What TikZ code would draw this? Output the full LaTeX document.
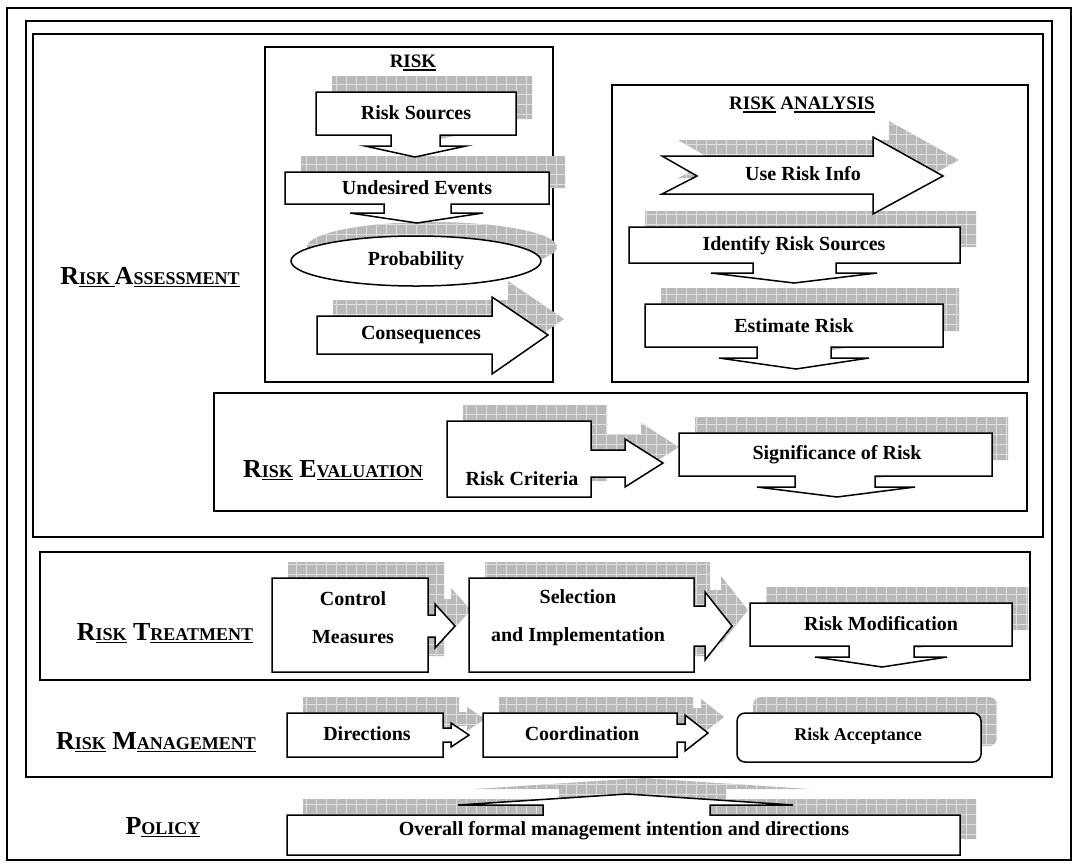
\documentclass[tikz,border=0pt]{standalone}
\usepackage{fontspec}
\setmainfont{Liberation Serif}
\newcommand{\ulbox}[1]{\setbox0\hbox{#1}\rlap{\rule[-3pt]{\wd0}{1.5pt}}\box0\relax}
\newcommand{\hcap}[1]{{\fontsize{26}{30}\selectfont #1}}
\newcommand{\hsc}[1]{\ulbox{\fontsize{18}{20}\selectfont #1}}

\begin{document}
\begin{tikzpicture}[x=1pt, y=-1pt, line join=miter,
  frameline/.style={line width=1.8pt},
  calbox/.style={draw, fill=white, line width=1.5pt},
  shadowfill/.style={fill=gray!55, path picture={\draw[gray!25, line width=0.7pt, step=10pt] (path picture bounding box.south west) grid (path picture bounding box.north east);}},
  lbl/.style={font=\fontsize{20}{24}\selectfont\bfseries, align=center},
  heading/.style={font=\fontsize{26}{30}\selectfont\bfseries}]
\useasboundingbox (0,0) rectangle (1078,863);

% Frames
\draw[frameline] (7,8) rectangle (1071,860);
\draw[frameline] (26,21) rectangle (1052,777);
\draw[frameline] (33,34) rectangle (1043,537);
\draw[frameline] (265,47) rectangle (553,382);
\draw[frameline] (612,85) rectangle (1028,382);
\draw[frameline] (214,393) rectangle (1027,511);
\draw[frameline] (40,552) rectangle (1030,680);

% Hatched shadows, shifted up and right
\begin{scope}[shift={(16,-16)}]
\path[shadowfill] (316,92) -- (516,92) -- (516,135) -- (440,135) -- (440,146) -- (466,146) -- (415,157) -- (365,146) -- (391,146) -- (391,135) -- (316,135) -- cycle;
\path[shadowfill] (285,172) -- (549,172) -- (549,204) -- (451,204) -- (451,213) -- (483,213) -- (417,223) -- (350,213) -- (384,213) -- (384,204) -- (285,204) -- cycle;
\path[shadowfill] (416,263) ellipse [x radius=125, y radius=25];
\path[shadowfill] (317,316) -- (492,316) -- (492,297) -- (548,335) -- (492,374) -- (492,354) -- (317,354) -- cycle;
\path[shadowfill] (662,156) -- (873,156) -- (873,137) -- (943,176) -- (873,214) -- (873,194) -- (662,194) -- (697,176) -- cycle;
\path[shadowfill] (629,227) -- (960,227) -- (960,263) -- (836,263) -- (836,273) -- (877,273) -- (794,283) -- (711,273) -- (753,273) -- (753,263) -- (629,263) -- cycle;
\path[shadowfill] (645,304) -- (943,304) -- (943,347) -- (831,347) -- (831,358) -- (869,358) -- (796,369) -- (719,358) -- (757,358) -- (757,347) -- (645,347) -- cycle;
\path[shadowfill] (447,421) -- (591,421) -- (591,450) -- (625,450) -- (625,439) -- (663,463) -- (625,487) -- (625,477) -- (591,477) -- (591,497) -- (447,497) -- cycle;
\path[shadowfill] (679,433) -- (992,433) -- (992,476) -- (875,476) -- (875,487) -- (915,487) -- (837,497) -- (757,487) -- (795,487) -- (795,476) -- (679,476) -- cycle;
\path[shadowfill] (272,578) -- (428,578) -- (428,615) -- (435,615) -- (435,604) -- (455,626) -- (435,648) -- (435,637) -- (428,637) -- (428,672) -- (272,672) -- cycle;
\path[shadowfill] (469,578) -- (694,578) -- (694,606) -- (705,606) -- (705,592) -- (732,626) -- (705,660) -- (705,646) -- (694,646) -- (694,672) -- (469,672) -- cycle;
\path[shadowfill] (750,603) -- (1012,603) -- (1012,646) -- (914,646) -- (914,657) -- (947,657) -- (882,667) -- (815,657) -- (849,657) -- (849,646) -- (750,646) -- cycle;
\path[shadowfill] (287,713) -- (443,713) -- (443,728) -- (451,728) -- (451,723) -- (469,735) -- (451,747) -- (451,742) -- (443,742) -- (443,757) -- (287,757) -- cycle;
\path[shadowfill] (483,713) -- (677,713) -- (677,724) -- (685,724) -- (685,715) -- (708,733) -- (685,751) -- (685,742) -- (677,742) -- (677,757) -- (483,757) -- cycle;
\path[shadowfill, rounded corners=8pt] (737,713) rectangle (981,762);
\path[shadowfill] (287,815) -- (543,815) -- (543,805) -- (458,805) -- (627,794) -- (793,805) -- (710,805) -- (710,815) -- (960,815) -- (960,855) -- (287,855) -- cycle;
\end{scope}

% Risk
\draw[calbox] (316,92) -- (516,92) -- (516,135) -- (440,135) -- (440,146) -- (466,146) -- (415,157) -- (365,146) -- (391,146) -- (391,135) -- (316,135) -- cycle;
\draw[calbox] (285,172) -- (549,172) -- (549,204) -- (451,204) -- (451,213) -- (483,213) -- (417,223) -- (350,213) -- (384,213) -- (384,204) -- (285,204) -- cycle;
\draw[calbox] (416,261) ellipse [x radius=125, y radius=25];
\draw[calbox] (317,316) -- (492,316) -- (492,297) -- (548,335) -- (492,374) -- (492,354) -- (317,354) -- cycle;

% Risk analysis
\draw[calbox] (662,156) -- (873,156) -- (873,137) -- (943,176) -- (873,214) -- (873,194) -- (662,194) -- (697,176) -- cycle;
\draw[calbox] (629,227) -- (960,227) -- (960,263) -- (836,263) -- (836,273) -- (877,273) -- (794,283) -- (711,273) -- (753,273) -- (753,263) -- (629,263) -- cycle;
\draw[calbox] (645,304) -- (943,304) -- (943,347) -- (831,347) -- (831,358) -- (869,358) -- (796,369) -- (719,358) -- (757,358) -- (757,347) -- (645,347) -- cycle;

% Risk evaluation
\draw[calbox] (447,421) -- (591,421) -- (591,450) -- (625,450) -- (625,439) -- (663,463) -- (625,487) -- (625,477) -- (591,477) -- (591,497) -- (447,497) -- cycle;
\draw[calbox] (679,433) -- (992,433) -- (992,476) -- (875,476) -- (875,487) -- (915,487) -- (837,497) -- (757,487) -- (795,487) -- (795,476) -- (679,476) -- cycle;

% Risk treatment
\draw[calbox] (272,578) -- (428,578) -- (428,615) -- (435,615) -- (435,604) -- (455,626) -- (435,648) -- (435,637) -- (428,637) -- (428,672) -- (272,672) -- cycle;
\draw[calbox] (469,578) -- (694,578) -- (694,606) -- (705,606) -- (705,592) -- (732,626) -- (705,660) -- (705,646) -- (694,646) -- (694,672) -- (469,672) -- cycle;
\draw[calbox] (750,603) -- (1012,603) -- (1012,646) -- (914,646) -- (914,657) -- (947,657) -- (882,667) -- (815,657) -- (849,657) -- (849,646) -- (750,646) -- cycle;

% Risk management
\draw[calbox] (287,713) -- (443,713) -- (443,728) -- (451,728) -- (451,723) -- (469,735) -- (451,747) -- (451,742) -- (443,742) -- (443,757) -- (287,757) -- cycle;
\draw[calbox] (483,713) -- (677,713) -- (677,724) -- (685,724) -- (685,715) -- (708,733) -- (685,751) -- (685,742) -- (677,742) -- (677,757) -- (483,757) -- cycle;
\draw[calbox, rounded corners=8pt] (737,713) rectangle (981,762);

% Policy
\draw[calbox] (287,815) -- (543,815) -- (543,805) -- (458,805) -- (627,794) -- (793,805) -- (710,805) -- (710,815) -- (960,815) -- (960,855) -- (287,855) -- cycle;

% Labels
\node[lbl, font=\fontsize{19}{22}\selectfont\bfseries] (risk) at (413,63) {R\ulbox{ISK}};
\node[lbl] (sources) at (416,113) {Risk Sources};
\node[lbl] (undesired) at (417,188) {Undesired Events};
\node[lbl] (probability) at (416,261) {Probability};
\node[lbl] (consequences) at (421,335) {Consequences};
\node[lbl, font=\fontsize{19}{22}\selectfont\bfseries] (analysis) at (802,105) {R\ulbox{ISK} A\ulbox{NALYSIS}};
\node[lbl] (useinfo) at (803,174) {Use Risk Info};
\node[lbl] (identify) at (794,246) {Identify Risk Sources};
\node[lbl] (estimate) at (794,326) {Estimate Risk};
\node[lbl] (criteria) at (522,479) {Risk Criteria};
\node[lbl] (significance) at (837,455) {Significance of Risk};
\node[lbl, font=\fontsize{20}{38}\selectfont\bfseries] (control) at (353,618) {Control\\Measures};
\node[lbl, font=\fontsize{20}{38}\selectfont\bfseries] (selection) at (578,618) {Selection\\and Implementation};
\node[lbl] (modification) at (881,624) {Risk Modification};
\node[lbl] (directions) at (367,734) {Directions};
\node[lbl] (coordination) at (582,734) {Coordination};
\node[lbl, font=\fontsize{18}{22}\selectfont\bfseries] (acceptance) at (858,736) {Risk Acceptance};
\node[lbl] (overall) at (624,831) {Overall formal management intention and directions};

% Level headings
\node[heading] (assessment) at (150,277) {R\hsc{ISK\ }A\hsc{SSESSMENT}};
\node[heading] (evaluation) at (333,470) {R\hsc{ISK} E\hsc{VALUATION}};
\node[heading] (treatment) at (165,633) {R\hsc{ISK} T\hsc{REATMENT}};
\node[heading] (management) at (156,742) {R\hsc{ISK} M\hsc{ANAGEMENT}};
\node[heading] (policy) at (163,827) {P\hsc{OLICY}};
\end{tikzpicture}
\end{document}
